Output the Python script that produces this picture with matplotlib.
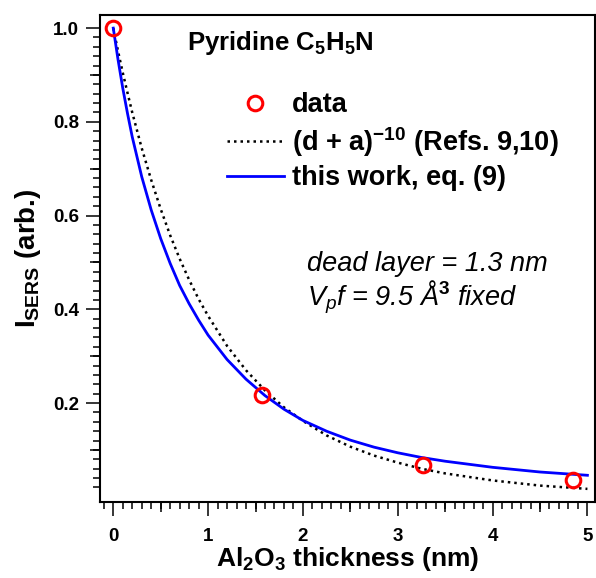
import numpy as np
import matplotlib.pyplot as plt
from matplotlib.ticker import MultipleLocator, FixedLocator

plt.rcParams['font.family'] = ['Liberation Sans', 'DejaVu Sans']
plt.rcParams['mathtext.fontset'] = 'custom'
plt.rcParams['mathtext.rm'] = 'Liberation Sans:bold'
plt.rcParams['mathtext.bf'] = 'Liberation Sans:bold'
plt.rcParams['mathtext.it'] = 'Liberation Sans:italic'
plt.rcParams['mathtext.default'] = 'rm'

# datos medidos
d_data = [0.0, 1.57, 3.27, 4.85]
i_data = [1.0, 0.217, 0.068, 0.036]

# curvas
d_curve = [0.0, 0.05, 0.1, 0.15, 0.2, 0.3, 0.4, 0.5, 0.6, 0.7, 0.8, 0.9, 1.0,
           1.2, 1.4, 1.6, 1.8, 2.0, 2.25, 2.5, 2.75, 3.0, 3.25, 3.5, 4.0, 4.5, 5.0]
i_refs = [1.0, 0.951, 0.905, 0.862, 0.820, 0.744, 0.676, 0.614, 0.558, 0.508,
          0.463, 0.422, 0.386, 0.322, 0.270, 0.227, 0.191, 0.162, 0.131, 0.107,
          0.088, 0.073, 0.060, 0.050, 0.035, 0.024, 0.017]
i_work = [1.0, 0.933, 0.872, 0.818, 0.768, 0.683, 0.612, 0.551, 0.498, 0.451,
          0.412, 0.377, 0.345, 0.293, 0.251, 0.216, 0.187, 0.163, 0.140, 0.121,
          0.106, 0.094, 0.084, 0.076, 0.063, 0.053, 0.046]

fig = plt.figure(figsize=(5.96, 5.78), dpi=100)
rect = [100/596, 1-502/578, 495/596, 487/578]
ax = fig.add_axes(rect)

ax.plot(d_data, i_data, 'o', mfc='none', mec=(1, 0, 0), ms=10.5, mew=2.2,
        label='data', zorder=5, clip_on=False)
ax.plot(d_curve, i_refs, color='k', lw=1.8, ls=(0, (1, 1.6)),
        label=r'(d + a)$^{-10}$ (Refs. 9,10)')
ax.plot(d_curve, i_work, color=(0, 0, 1), lw=2.0,
        label='this work, eq. (9)')

xlim = (-0.14, 5.08)
ylim = (-0.011, 1.028)
ax.set_xlim(xlim)
ax.set_ylim(ylim)
ax.set_yticks([0.2, 0.4, 0.6, 0.8, 1.0])
ax.set_yticklabels(['0.2', '0.4', '0.6', '0.8', '1.0'])
ax.set_xticks([0, 1, 2, 3, 4, 5])
ax.xaxis.set_minor_locator(MultipleLocator(0.1))
ax.yaxis.set_minor_locator(FixedLocator(np.arange(0.02, 1.01, 0.02)))

ax.tick_params(which='both', direction='out', width=1.1, top=False, right=False)
ax.tick_params(which='major', length=10, labelsize=13.5, pad=5)
ax.tick_params(which='minor', length=5)
ax.tick_params(axis='x', which='major', pad=9)
for lab in ax.get_xticklabels() + ax.get_yticklabels():
    lab.set_fontweight('bold')
for s in ax.spines.values():
    s.set_linewidth(1.5)

# marcas intermedias (estilo Igor)
axm = fig.add_axes(rect)
axm.patch.set_visible(False)
for s in axm.spines.values():
    s.set_visible(False)
axm.set_xlim(xlim)
axm.set_ylim(ylim)
axm.set_xticks([0.5, 1.5, 2.5, 3.5, 4.5])
axm.set_yticks([0.1, 0.3, 0.5, 0.7, 0.9])
axm.tick_params(direction='out', width=1.1, length=7.5, labelleft=False,
                labelbottom=False)

ax.set_xlabel(r'Al$_2$O$_3$ thickness (nm)', fontsize=19, fontweight='bold', labelpad=0)
ax.set_ylabel(r'I$_{SERS}$ (arb.)', fontsize=20, fontweight='bold', labelpad=7)

fig.text(187/596, 1-50/578, r'Pyridine C$_5$H$_5$N', fontsize=18.5, fontweight='bold')

leg = ax.legend(loc='upper left', bbox_to_anchor=(227/596, 1-92/578),
                bbox_transform=fig.transFigure, frameon=False, fontsize=19.5,
                handlelength=2.1, handletextpad=0.3, borderpad=0, borderaxespad=0,
                labelspacing=0.25, numpoints=1)
for t in leg.get_texts():
    t.set_fontweight('bold')

fig.text(307/596, 1-271/578, 'dead layer = 1.3 nm', fontsize=19.5, style='italic')
fig.text(307/596, 1-305/578, r'$\mathit{V}_{\mathit{p}}$f = 9.5 Å$^{\mathit{3}}$ fixed',
         fontsize=19.5, style='italic')

fig.savefig('out.png', dpi=100)
